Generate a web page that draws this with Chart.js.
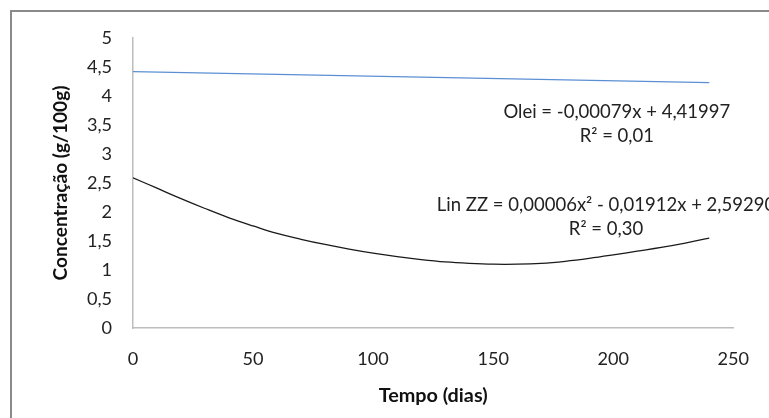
<!DOCTYPE html>
<html><head><meta charset="utf-8">
<style>html,body{margin:0;padding:0;background:#fff;overflow:hidden}canvas{display:block}</style>
<script src="https://cdn.jsdelivr.net/npm/chart.js@4.4.1/dist/chart.umd.min.js"></script>
</head><body>
<canvas id="c" width="769" height="418"></canvas>
<script>
// ---- data ----
const days   = [0,10,20,30,40,50,60,70,80,90,100,110,120,130,140,150,160,170,180,190,200,210,220,230,240];
const linZZ  = [2.59,2.41,2.23,2.06,1.90,1.76,1.63,1.53,1.44,1.36,1.29,1.23,1.18,1.14,1.115,1.10,1.10,1.115,1.15,1.20,1.26,1.325,1.39,1.465,1.55];
const oleiDays = [0,240];
const olei     = [4.42,4.23];
const xTickLabels = ['0','50','100','150','200','250'];
const yTickLabels = ['0','0,5','1','1,5','2','2,5','3','3,5','4','4,5','5'];
const xTitle = 'Tempo (dias)';
const yTitle = 'Concentração (g/100g)';
const oleiEq = ['Olei = -0,00079x + 4,41997','R² = 0,01'];
const linEq  = ['Lin ZZ = 0,00006x² - 0,01912x + 2,59290','R² = 0,30'];

const FAM = 'Lato';
const mctx = document.createElement('canvas').getContext('2d');
function fit(text, weight, target){ mctx.font = weight+' 100px '+FAM; return 100*target/mctx.measureText(text).width; }
const tickSize = fit('200','normal',31.5);
const annSize  = fit(oleiEq[0],'normal',227);
const xtSize   = fit(xTitle,'bold',109);
const ytSize   = fit(yTitle,'bold',195);

const frame = {
  id:'frame',
  beforeDraw(chart){
    const c = chart.ctx; c.save();
    c.fillStyle='#fff'; c.fillRect(0,0,chart.width,chart.height);
    c.strokeStyle='#8a8a8a'; c.lineWidth=2;
    c.strokeRect(11,11,800,460);
    c.restore();
  }
};
const annot = {
  id:'annot',
  afterDatasetsDraw(chart){
    const c = chart.ctx, xs = chart.scales.x, ys = chart.scales.y;
    c.save();
    c.fillStyle='#222'; c.textAlign='center'; c.textBaseline='middle';
    c.font = annSize.toFixed(2)+'px '+FAM;
    const blocks = [[oleiEq, 201.5, 3.73],[linEq, 197, 2.125]];
    blocks.forEach(([lines, vx, vy])=>{
      const px = xs.getPixelForValue(vx), py = ys.getPixelForValue(vy);
      lines.forEach((t,i)=> c.fillText(t, px, py + i*24));
    });
    c.restore();
  }
};

new Chart(document.getElementById('c'), {
  type:'scatter',
  data:{ datasets:[
    { label:'Olei', data: oleiDays.map((d,i)=>({x:d,y:olei[i]})), showLine:true, borderColor:'#5b8fd4', borderWidth:1.3, pointRadius:0 },
    { label:'Lin ZZ', data: days.map((d,i)=>({x:d,y:linZZ[i]})), showLine:true, borderColor:'#1a1a1a', borderWidth:1.3, pointRadius:0, tension:0.4 }
  ]},
  options:{
    responsive:false, animation:false, devicePixelRatio:1,
    layout:{ padding:{ left:0, top:38, right:31, bottom:0 } },
    plugins:{ legend:{display:false}, tooltip:{enabled:false} },
    scales:{
      x:{ type:'linear', min:0, max:250,
        grid:{display:false, drawTicks:false},
        border:{display:true, color:'#bdbdbd', width:1.5},
        ticks:{ stepSize:50, padding:20, color:'#222', font:{size:tickSize, family:FAM},
          callback:(v)=>{ const i=Math.round(v/50); return xTickLabels[i]; } },
        title:{ display:true, text:xTitle, color:'#111', font:{size:xtSize, weight:'bold', family:FAM}, padding:{top:0,bottom:22 - xtSize*0.6} },
        afterFit:(s)=>{ s.height = 90; }
      },
      y:{ min:0, max:5,
        grid:{display:false, drawTicks:false},
        border:{display:true, color:'#bdbdbd', width:1.5},
        ticks:{ stepSize:0.5, padding:21, color:'#222', font:{size:tickSize, family:FAM},
          callback:(v)=>{ const i=Math.round(v/0.5); return yTickLabels[i]; } },
        title:{ display:true, text:yTitle, color:'#111', font:{size:ytSize, weight:'bold', family:FAM}, padding:{top:61 - ytSize*0.6, bottom:0} },
        afterFit:(s)=>{ s.width = 133; }
      }
    }
  },
  plugins:[frame, annot]
});
</script>
</body></html>
